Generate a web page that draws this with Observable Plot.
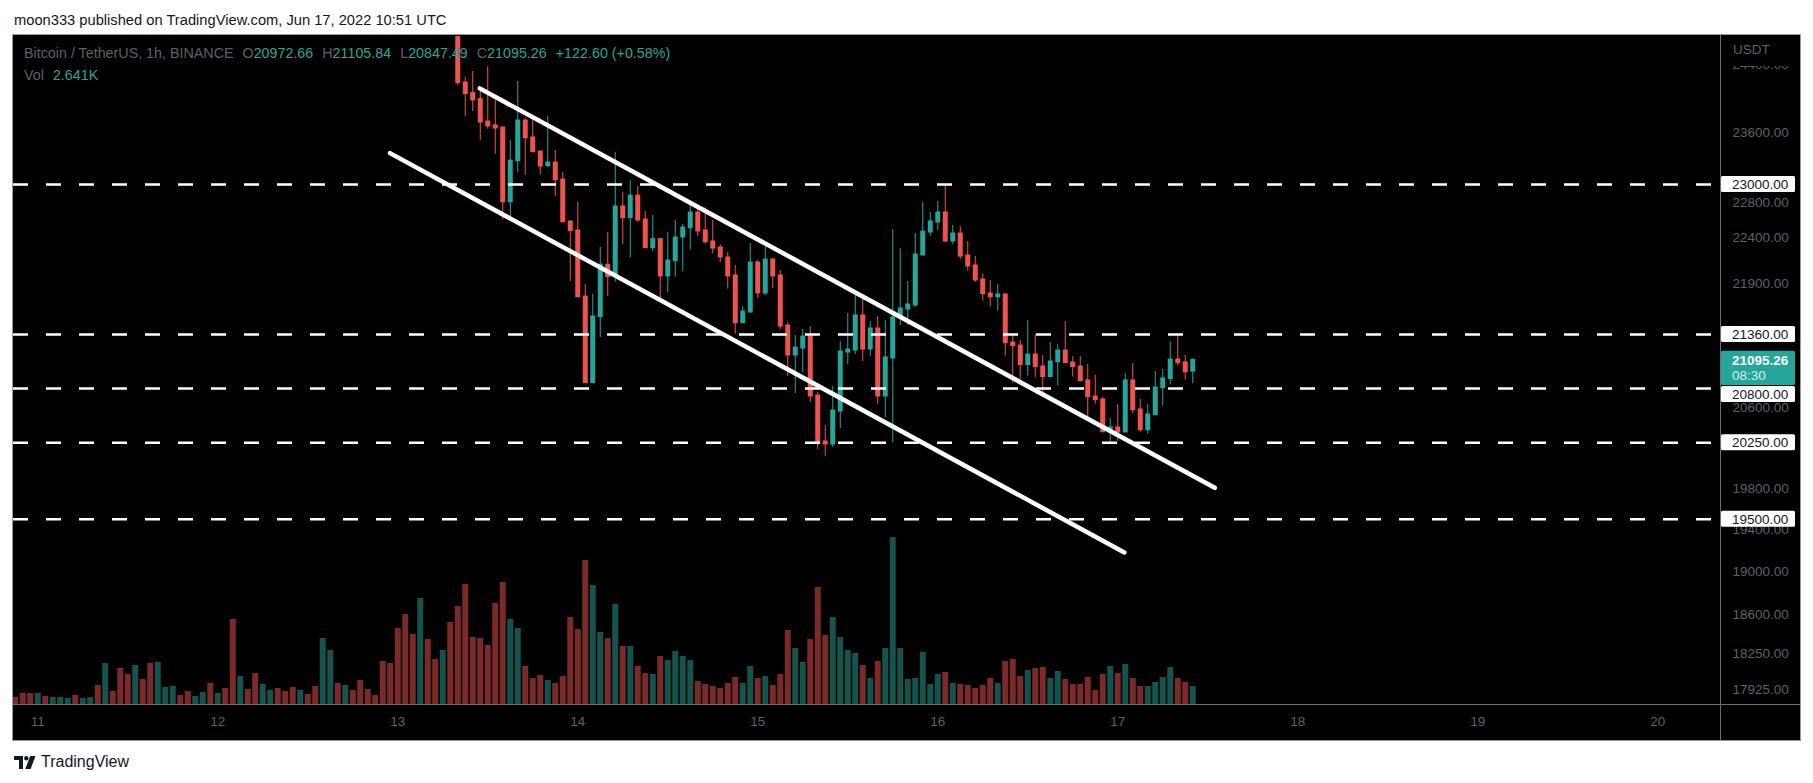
<!DOCTYPE html>
<html>
<head>
<meta charset="utf-8">
<script src="https://cdn.jsdelivr.net/npm/d3@7"></script>
<script src="https://cdn.jsdelivr.net/npm/@observablehq/plot@0.6"></script>
<style>
  html, body { margin: 0; padding: 0; background: #ffffff; }
  body { width: 1813px; height: 783px; overflow: hidden; font-family: "Liberation Sans", Arial, sans-serif; }
  #wrap { position: relative; width: 1813px; height: 783px; }
  #title { position: absolute; left: 14px; top: 12px; font-size: 14.7px; line-height: 17px; color: #131722; white-space: nowrap; }
  #frame { position: absolute; left: 12px; top: 34px; width: 1789px; height: 707px; background: #000; box-sizing: border-box; border: 1px solid #9a9a9a; }
  #vdiv { position: absolute; left: 1720px; top: 35px; width: 1px; height: 705px; background: #6e6e6e; }
  #hdiv { position: absolute; left: 13px; top: 704px; width: 1787px; height: 1px; background: #6e6e6e; }
  .layer { position: absolute; left: 0; top: 0; }
  #legend { position: absolute; left: 24px; top: 44px; font-size: 14.3px; line-height: 18px; color: #5d606b; white-space: nowrap; }
  #legend .v { color: #26a69a; }
  #legend .g { margin-left: 9px; }
  #usdt { position: absolute; left: 1721px; top: 35px; width: 78px; height: 31px; background: #000; color: #5d606b; font-size: 13.5px; line-height: 18px; padding-top: 6px; padding-left: 12px; box-sizing: border-box; }
  #logo { position: absolute; left: 14px; top: 753px; height: 18px; display: flex; align-items: center; font-size: 16px; color: #131722; }
  #logo svg { margin-right: 5px; }
</style>
</head>
<body>
<div id="wrap">
  <div id="title">moon333 published on TradingView.com, Jun 17, 2022 10:51 UTC</div>
  <div id="frame"></div>
  <div id="vol" class="layer"></div>
  <div id="price" class="layer"></div>
  <div id="vdiv"></div>
  <div id="hdiv"></div>
  <div id="legend"></div>
  <div id="usdt">USDT</div>
  <div id="logo"><svg width="22" height="13" viewBox="0 0 22 13"><path d="M0 0H9V13H5V4H0Z" fill="#131722"/><circle cx="12.3" cy="2.2" r="2.2" fill="#131722"/><path d="M16.2 0H21.5L16.6 13H11.3Z" fill="#131722"/></svg><span>TradingView</span></div>
</div>
<script>
// ---------- data ----------
// hourly candles, first one opens 2022-06-13 08:00 UTC
const candleStartISO = "2022-06-13T08:00:00Z";
const open  = [24850,24187,24061,23990,23726,23680,23656,22800,23266,23737,23540,23378,23209,23251,23057,22585,22485,21764,20855,21544,22108,21974,22752,22622,22875,22607,22289,22389,21981,22147,22407,22510,22685,22485,22363,22296,22187,21992,21480,21594,22132,21797,22165,21992,21455,21140,21213,21339,20727,20263,20233,20564,21171,21192,21562,21203,21424,20717,21109,21530,21626,21668,22209,22462,22574,22685,22363,22451,22209,22100,21948,21797,21757,21786,21276,21245,21040,21150,21026,20917,21071,21192,21068,21026,20882,20717,20687,20356,20403,20353,20882,20585,20376,20527,20803,20896,21099,21068,20972.66];
const high  = [24900,24250,24318,24100,24378,23980,23660,23505,24200,23765,23804,23380,23785,23389,23137,22590,22800,21893,21790,22297,22462,23366,22913,23045,22977,22696,22651,22390,22466,22600,22555,22800,22770,22740,22596,22326,22242,22100,21658,22341,22154,22308,22176,22046,21487,21350,21413,21445,20758,20423,20820,21286,21583,21797,21775,21498,21551,21509,22495,22285,21926,22451,22797,22685,22808,23000,22540,22529,22363,22198,22010,21937,21893,21793,21360,21297,21509,21360,21140,21276,21255,21498,21130,21130,21047,20934,20710,20493,20636,20954,21057,20687,20636,20974,20995,21286,21370,21140,21105.84];
const low   = [24152,23785,23843,23505,23636,23347,22603,22622,23129,23106,23362,23106,23194,22864,22566,21925,21750,20850,20850,21329,21764,21918,22330,22180,22577,22289,22253,21729,21808,21974,22031,22271,22418,22333,22227,22132,21843,21364,21478,21583,21743,21775,21850,21413,20923,20747,20964,20656,20183,20114,20203,20393,21047,21150,21078,21130,20636,20503,20253,21455,21455,21647,22209,22418,22485,22352,22330,22165,22035,21918,21715,21650,21608,21134,20855,20893,20927,20906,20751,20917,20823,21061,20917,20865,20506,20639,20346,20237,20263,20353,20547,20356,20336,20527,20619,20834,21030,20886,20847.49];
const close = [24180,24049,23974,23714,23668,23644,22800,23273,23737,23532,23370,23205,23251,23049,22577,22478,21757,20855,21551,22108,21974,22752,22622,22875,22596,22289,22389,21981,22154,22407,22517,22685,22474,22355,22285,22187,21981,21480,21604,22132,21797,22165,21981,21445,21140,21223,21339,20717,20253,20233,20574,21182,21203,21562,21203,21424,20717,21120,21541,21637,21679,22220,22473,22585,22685,22363,22451,22198,22089,21937,21790,21757,21786,21269,21238,21040,21150,21020,20917,21078,21192,21061,21020,20876,20710,20680,20356,20403,20353,20882,20578,20376,20534,20810,20903,21099,21061,20967,21095.26];

// hourly volume (BTC), first bar 2022-06-10 21:00 UTC
const volumeStartISO = "2022-06-10T21:00:00Z";
const volume = [1027,1614,1614,1614,1174,1027,1027,880,1320,880,1027,2787,6015,1907,5281,4401,5721,3668,6015,6161,2494,2641,1320,1907,1174,1760,3081,1614,2347,12470,4108,2201,4548,2934,2054,2347,1907,2494,2054,1467,2641,9682,7922,3081,2787,2054,3521,2201,1320,6308,6015,11149,13203,10269,15550,9536,6602,7922,12029,14377,17604,9829,9682,8655,14817,17897,12470,11149,5575,3814,4254,3521,3081,4108,12763,11003,21125,17457,10562,9682,14670,8509,8509,5575,4548,4401,7042,6455,7775,7042,6455,3374,2934,2641,2347,3081,3961,3081,5575,3814,4108,2787,4401,10856,8215,6161,9536,17164,10122,12763,9829,7922,7482,5721,3814,6308,8215,24499,8215,3668,3814,7628,2934,4401,4694,3081,2934,2787,2347,2787,3814,3081,6308,6602,4108,4988,5281,5428,3814,4841,3668,2934,2934,3961,2054,4401,5575,4548,5868,3814,2641,2641,3227,3961,5428,3814,3227,2641];
// direction of the volume bars that come before the first visible candle (1 = up, 0 = down)
const earlyVolumeUp = [0,0,0,1,0,1,1,1,0,1,1,0,1,0,0,0,1,0,0,1,1,1,0,0,1,1,0,1,0,0,1,0,0,1,1,0,0,0,1,0,0,1,1,0,1,0,0,0,0,0,0,0,0,0,1,0,0,1,0];

// horizontal levels drawn on the chart
const levels = [23000, 21360, 20800, 20250, 19500];
// channel lines (start / end)
const channelIds    = ["upper", "upper", "lower", "lower"];
const channelTimes  = ["2022-06-13T10:56:00Z", "2022-06-17T12:56:00Z", "2022-06-12T22:58:00Z", "2022-06-17T00:53:00Z"];
const channelPrices = [24117, 19805, 23359, 19184];

// axis ticks
const priceTicks = [24400, 23600, 22800, 22400, 21900, 20600, 19800, 19400, 19000, 18600, 18250, 17925];
const dayTickISO = ["2022-06-11","2022-06-12","2022-06-13","2022-06-14","2022-06-15","2022-06-16","2022-06-17","2022-06-18","2022-06-19","2022-06-20"];
const countdown = "08:30";

// visible ranges
const timeDomainISO = ["2022-06-10T20:46:00Z", "2022-06-20T08:22:00Z"];
const priceDomain = [17798, 24742];

// ---------- build ----------
const HOUR = 3600e3;
const UP = "#26a69a", DOWN = "#ef5350";
const UP_VOL = "#15534d", DOWN_VOL = "#7a2a29";
const cStart = Date.parse(candleStartISO);
const vStart = Date.parse(volumeStartISO);
const candles = open.map((o, i) => ({
  t: new Date(cStart + i * HOUR), o, h: high[i], l: low[i], c: close[i],
  top: Math.max(o, close[i]), bot: Math.min(o, close[i]), up: close[i] >= o
}));
const vols = volume.map((v, i) => {
  const t = vStart + i * HOUR;
  const k = Math.round((t - cStart) / HOUR);
  const up = k >= 0 ? close[k] >= open[k] : earlyVolumeUp[i] === 1;
  return { t: new Date(t), v, up };
});
const channel = channelIds.map((id, i) => ({ id, t: new Date(channelTimes[i]), p: channelPrices[i] }));
const xDomain = timeDomainISO.map(d => new Date(d));
const dayTicks = dayTickISO.map(d => new Date(d + "T00:00:00Z"));

const W = 1813, H = 783;
const M = { marginLeft: 13, marginRight: 93, marginTop: 36, marginBottom: 79 };
const FONT = "'Liberation Sans', Arial, sans-serif";
const AXIS_GREY = "#5d606b";

// volume layer
const volPlot = Plot.plot({
  width: W, height: H, ...M,
  style: { background: "transparent", fontFamily: FONT },
  x: { type: "utc", domain: xDomain, axis: null },
  y: { domain: [0, d3.max(volume) * 4], axis: null },
  marks: [
    Plot.ruleX(vols.filter(d => d.up), { x: "t", y1: 0, y2: "v", stroke: UP_VOL, strokeWidth: 6, clip: true }),
    Plot.ruleX(vols.filter(d => !d.up), { x: "t", y1: 0, y2: "v", stroke: DOWN_VOL, strokeWidth: 6, clip: true })
  ]
});
document.getElementById("vol").appendChild(volPlot);

// axis-side labels for levels and last price (level labels are pushed clear of the price label)
const last = candles[candles.length - 1];
function sideLabels(index, scales, values, dimensions) {
  const g = d3.create("svg:g").attr("text-anchor", "start").attr("font-size", 13.5);
  const x0 = dimensions.width - dimensions.marginRight + 1;
  const bw = 74, bh = 16;
  const yc = scales.y(last.c);
  const pTop = yc - 8.6, pBot = yc + 25.7;
  for (const lv of levels) {
    let y = scales.y(lv);
    if (y + bh / 2 > pTop && y - bh / 2 < pBot) y = (y >= yc) ? pBot + 1 + bh / 2 : pTop - 1 - bh / 2;
    g.append("rect").attr("x", x0).attr("y", y - bh / 2).attr("width", bw).attr("height", bh).attr("fill", "#ffffff").attr("rx", 1.5);
    g.append("text").attr("x", x0 + 11).attr("y", y).attr("dy", "0.36em").attr("fill", "#131722").text(lv.toFixed(2));
  }
  g.append("rect").attr("x", x0).attr("y", pTop).attr("width", bw).attr("height", pBot - pTop).attr("fill", UP).attr("rx", 1.5);
  g.append("text").attr("x", x0 + 11).attr("y", yc + 0.7).attr("dy", "0.36em").attr("fill", "#ffffff")
    .attr("font-weight", "bold").text(last.c.toFixed(2));
  g.append("text").attr("x", x0 + 11).attr("y", yc + 15.7).attr("dy", "0.36em").attr("fill", "#d3efeb").text(countdown);
  return g.node();
}

const pricePlot = Plot.plot({
  width: W, height: H, ...M,
  style: { background: "transparent", fontFamily: FONT },
  x: { type: "utc", domain: xDomain },
  y: { type: "log", domain: priceDomain },
  marks: [
    Plot.ruleX(candles.filter(d => d.up), { x: "t", y1: "l", y2: "h", stroke: UP, strokeWidth: 1, clip: true }),
    Plot.ruleX(candles.filter(d => !d.up), { x: "t", y1: "l", y2: "h", stroke: DOWN, strokeWidth: 1, clip: true }),
    Plot.ruleX(candles.filter(d => d.up), { x: "t", y1: "top", y2: "bot", stroke: UP, strokeWidth: 5, insetTop: -0.5, insetBottom: -0.5, clip: true }),
    Plot.ruleX(candles.filter(d => !d.up), { x: "t", y1: "top", y2: "bot", stroke: DOWN, strokeWidth: 5, insetTop: -0.5, insetBottom: -0.5, clip: true }),
    Plot.ruleY(levels, { y: d => d, stroke: "#ffffff", strokeWidth: 2.5, strokeDasharray: "15,18" }),
    Plot.line(channel, { x: "t", y: "p", z: "id", stroke: "#ffffff", strokeWidth: 4.5, clip: true }),
    Plot.axisY({ anchor: "right", ticks: priceTicks, tickSize: 0, tickPadding: 12, tickFormat: d => d.toFixed(2),
                 fill: AXIS_GREY, fontSize: 13.5, label: null }),
    Plot.axisX({ anchor: "bottom", ticks: dayTicks, tickSize: 0, tickPadding: 12, tickFormat: d3.utcFormat("%-d"),
                 fill: AXIS_GREY, fontSize: 13.5, label: null }),
    sideLabels
  ]
});
document.getElementById("price").appendChild(pricePlot);

// legend
const chg = last.c - last.o;
const pct = chg / last.o * 100;
const sign = v => (v >= 0 ? "+" : "") + v.toFixed(2);
const lastVol = volume[volume.length - 1];
document.getElementById("legend").innerHTML =
  `<div>Bitcoin / TetherUS, 1h, BINANCE` +
  `<span class="g">O<span class="v">${last.o.toFixed(2)}</span></span>` +
  `<span class="g">H<span class="v">${last.h.toFixed(2)}</span></span>` +
  `<span class="g">L<span class="v">${last.l.toFixed(2)}</span></span>` +
  `<span class="g">C<span class="v">${last.c.toFixed(2)}</span></span>` +
  `<span class="g v">${sign(chg)} (${sign(pct)}%)</span></div>` +
  `<div style="margin-top:4px">Vol<span class="g v">${(lastVol / 1000).toFixed(3)}K</span></div>`;
</script>
</body>
</html>
